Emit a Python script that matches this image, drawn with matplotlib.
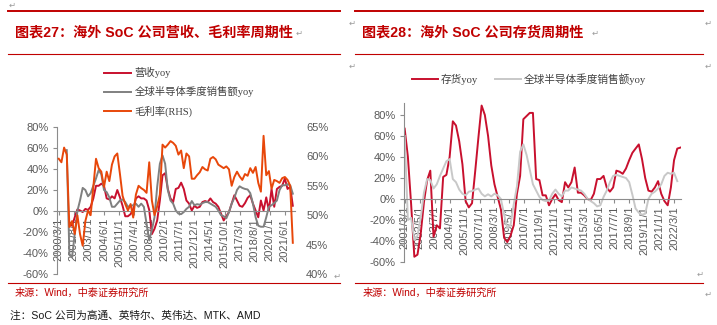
import numpy as np
import pandas as pd
import matplotlib
matplotlib.use("Agg")
import matplotlib.pyplot as plt
from matplotlib.lines import Line2D
from matplotlib.ticker import FuncFormatter

plt.rcParams['font.family'] = ['Liberation Sans', 'Noto Sans CJK SC', 'DejaVu Sans']

nan = np.nan

# ---- chart 27: revenue yoy, global semi sales yoy, gross margin (RHS) ----
left_dates = pd.date_range('2000-03-01', periods=89, freq='3MS')
revenue_yoy = [nan, nan, nan, nan, -11, -14, -6, 1.5, 0.5, -1,
               2, 1, 4, 12, 24, 24, 26, 24, 12, 11,
               14, 12, 20, 13, 5, -5, -5, -3, 2, 12,
               14, 12, 12, 10, 1, -22, -17, -9, 10, 34,
               36, 21, 12, 8.5, 21, 22, 27, 21, 10, 7,
               0.5, 5, 3, 4, 8.5, 9.5, 8.5, 12, 8.5, 7,
               4, -2.5, -9, -5, -1, 7, 15, 10, 5, 4,
               7.5, 12.5, 15, 7, 0.5, -6, 10, 0.5, 13, 0.5,
               21, 4, 21, 23, 24, 31, 21, 23, 5]
semi_yoy_l = [nan, nan, nan,
              58, -41, -44, -22, 0, 10, 22, 20, 14, 17,
              24, 31, 39, 35, 20, 18, 13, 4, 4, 7,
              10, 11, 8.5, 4, 5, 5.5, 7, 4, 7, 4,
              -12, -28, -18, -6, 23, 45, 53, 45, 20, 10,
              7, 0.5, -2.5, -3, -1, 2, 4, 9.5, 5.5, 6.5,
              6, 7.5, 8.5, 8.5, 7, 5.5, 4, 0.5, -4, -5,
              -7, -1, 7, 12.5, 20, 23.5, 22, 21, 20.5, 17,
              7, -6, -14, -15, -15, -6, 4, 5.5, 7.5, 10,
              20, 24.5, 24.5, 25.5, 24.5, 16.5]
gross_margin = [59.6, 59.0, 61.5, 60.3, 48.0, 49.0, 46.8, 50.0, 46.8, 44.8,
                49.0, 50.8, 50.0, 54.8, 59.6, 58.0, 57.4, 54.8, 57.4, 55.8,
                58.6, 60.0, 60.5, 57.0, 53.3, 51.9, 50.8, 51.9, 49.6, 53.5,
                55.0, 54.6, 54.3, 53.8, 59.0, 52.5, 50.0, 51.5, 53.5, 62.0,
                61.5, 62.0, 62.6, 62.3, 61.8, 60.3, 61.0, 58.0, 60.5, 60.0,
                56.2, 56.2, 56.8, 57.3, 58.2, 57.8, 57.6, 59.6, 59.9, 59.5,
                58.6, 58.3, 58.0, 58.3, 57.8, 55.0, 56.5, 57.4, 56.6, 56.0,
                57.0, 56.7, 58.0, 57.2, 58.2, 55.5, 54.0, 63.5, 56.8, 57.5,
                54.5, 56.0, 55.8, 55.5, 56.3, 56.5, 56.0, 55.0, 45.3]
left_ticks = pd.date_range('2000-03-01', periods=16, freq='17MS')

# ---- chart 28: inventory yoy vs global semi sales yoy ----
inv_dates = pd.date_range('2001-03-01', periods=87, freq='3MS')
inventory_yoy = [67, 40, -5, -55, -53, -33, -3, 18, 27, -36,
                 -25, -28, 21, 23, 40, 74, 70, 55, 33, -2,
                 -8, -4, 27, 59, 89, 80, 60, 32, 14, 2,
                 -10, -37, -41, -35, -25, 5, 22, 76, 79, 82,
                 82, 19, 18, 3.5, 3.5, -6, 0, 4.5, -1, -3,
                 16, 11, 16, 30, 6, 6, 3.5, 0, -1, 5,
                 19, 19, 22, 11, 7, 11, 27, 26, 24, 29,
                 37, 44, 48, 52, 38, 20, 8, 7, 11, 17,
                 5, -2, -6, 11, 37, 48, 49]
semi_dates = pd.date_range('2001-03-01', periods=86, freq='3MS')
semi_yoy_r = [60, -20, -18, -39, -35, -18, 6, 19, 18, 10,
              14, 22, 29, 36, 38, 19, 16, 9, 5, 3.5,
              7, 7.5, 9, 10, 5, 2.5, 4.5, 2.5, 5, 3.5,
              0, -15, -28, -25, -5, 12, 45, 52, 42, 28,
              14, 8, 2, -1, -2, -1.5, 5, 9, 5, 2.5,
              8, 8, 11, 10, 9, 8, 5, 0.5, -2, -4,
              -7, -6, 2, 8, 16, 22, 23, 22, 21, 20,
              16, 4, -9, -13, -15, -14, 0, 5, 7, 10,
              14, 22, 25, 24, 25, 17]
right_ticks = pd.date_range('2001-03-01', periods=19, freq='14MS')

RED = '#C8102E'
ORANGE = '#E8470A'
TITLE_RED = '#C00000'
AXIS_GRAY = '#8C8C8C'
TICK_TXT = '#595959'
SERIF_CJK = ['Liberation Serif', 'Noto Sans CJK SC', 'DejaVu Sans']
SANS_CJK = ['Liberation Sans', 'Noto Sans CJK SC', 'DejaVu Sans']

W, H = 717, 325
fig = plt.figure(figsize=(W / 100, H / 100), dpi=100)


def fx(px):
    return px / W


def fy(py):
    return 1 - py / H


def style_axis(ax, ticks, ytop):
    for s in ['top', 'right']:
        ax.spines[s].set_visible(False)
    ax.spines['left'].set_color(AXIS_GRAY)
    ax.spines['bottom'].set_color(AXIS_GRAY)
    ax.spines['bottom'].set_position(('data', 0))
    ax.set_ylim(-60, ytop)
    ax.set_yticks(range(-60, 81, 20))
    ax.yaxis.set_major_formatter(FuncFormatter(lambda v, p: f'{v:.0f}%'))
    ax.tick_params(axis='y', colors=AXIS_GRAY, labelcolor=TICK_TXT, labelsize=8,
                   length=3, width=0.8, pad=3)
    ax.set_xticks(ticks)
    ax.set_xticklabels([f'{d.year}/{d.month}/{d.day}' for d in ticks], rotation=90,
                       va='top', ha='center')
    ax.tick_params(axis='x', colors=AXIS_GRAY, labelcolor=TICK_TXT, labelsize=8,
                   length=3, width=0.8, pad=2)
    ax.patch.set_visible(False)


# ---------- left chart ----------
axl = fig.add_axes([fx(57), fy(274), fx(295 - 57), (274 - 127) / H])
l1, = axl.plot(left_dates, revenue_yoy, color=RED, lw=1.4, label='营收yoy')
l2, = axl.plot(left_dates, semi_yoy_l, color='#808080', lw=1.4, label='全球半导体季度销售额yoy')
style_axis(axl, left_ticks, 80)
axl.set_xlim(pd.Timestamp('2000-01-01'), pd.Timestamp('2022-05-15'))

axr = axl.twinx()
l3, = axr.plot(left_dates, gross_margin, color=ORANGE, lw=1.4, label='毛利率(RHS)')
axr.set_ylim(40, 65)
axr.set_yticks(range(40, 66, 5))
axr.yaxis.set_major_formatter(FuncFormatter(lambda v, p: f'{v:.0f}%'))
axr.tick_params(axis='y', labelcolor=TICK_TXT, labelsize=8, length=0, pad=8)
for s in axr.spines.values():
    s.set_visible(False)
axr.set_xlim(axl.get_xlim())

fig.legend(handles=[l1, l2, l3], loc='upper left', bbox_to_anchor=(fx(104), fy(67)),
           frameon=False, prop={'family': SERIF_CJK, 'size': 7.5}, labelcolor='#404040',
           handlelength=2.6, handletextpad=0.35, labelspacing=0.78, borderpad=0,
           borderaxespad=0)

# ---------- right chart ----------
# value axis runs a little above the 80% tick so the 2007 peak is not cut
axi = fig.add_axes([fx(404), fy(262), fx(681 - 404), (262 - 103) / H])
r1, = axi.plot(inv_dates, inventory_yoy, color=RED, lw=1.4, label='存货yoy')
r2, = axi.plot(semi_dates, semi_yoy_r, color='#C8C8C8', lw=1.4, label='全球半导体季度销售额yoy')
style_axis(axi, right_ticks, 80 + 12 / 1.05)
axi.set_xlim(pd.Timestamp('2001-02-10'), pd.Timestamp('2022-09-15'))

fig.legend(handles=[r1, r2], loc='center left', bbox_to_anchor=(fx(412), fy(79)),
           ncol=2, frameon=False, prop={'family': SERIF_CJK, 'size': 7.7},
           labelcolor='#404040', handlelength=2.4, handletextpad=0.3,
           columnspacing=1.6, borderpad=0, borderaxespad=0)

# ---------- frame lines, titles, notes ----------
for x0, x1 in [(8, 340), (355, 703)]:
    fig.add_artist(Line2D([fx(x0), fx(x1)], [fy(10.5), fy(10.5)], color=TITLE_RED, lw=1.4))
    fig.add_artist(Line2D([fx(x0), fx(x1)], [fy(53.5), fy(53.5)], color=TITLE_RED, lw=0.8))
    fig.add_artist(Line2D([fx(x0), fx(x1)], [fy(283), fy(283)], color=TITLE_RED, lw=0.8))

fig.text(fx(15), fy(33), '图表27：海外 SoC 公司营收、毛利率周期性', color=TITLE_RED,
         fontsize=10.2, fontweight='bold', va='center', ha='left', family=SANS_CJK)
fig.text(fx(362), fy(33), '图表28：海外 SoC 公司存货周期性', color=TITLE_RED,
         fontsize=10.2, fontweight='bold', va='center', ha='left', family=SANS_CJK)

fig.text(fx(15), fy(293), '来源：Wind，中泰证券研究所', color=TITLE_RED, fontsize=7.3,
         va='center', ha='left', family=SANS_CJK)
fig.text(fx(363), fy(293), '来源：Wind，中泰证券研究所', color=TITLE_RED, fontsize=7.3,
         va='center', ha='left', family=SANS_CJK)
fig.text(fx(10), fy(316), '注：SoC 公司为高通、英特尔、英伟达、MTK、AMD', color='#1A1A1A',
         fontsize=7.7, va='center', ha='left', family=SANS_CJK)

# paragraph marks
for px, py in [(12, 5), (299, 33), (352, 23), (352, 66), (337, 276),
               (595, 33), (708, 23), (708, 66), (700, 274), (708, 294)]:
    fig.text(fx(px), fy(py), '\u21b5', color='#9A9A9A', fontsize=6, va='center',
             ha='center', family=['DejaVu Sans'])

fig.savefig('out.png', dpi=100)
